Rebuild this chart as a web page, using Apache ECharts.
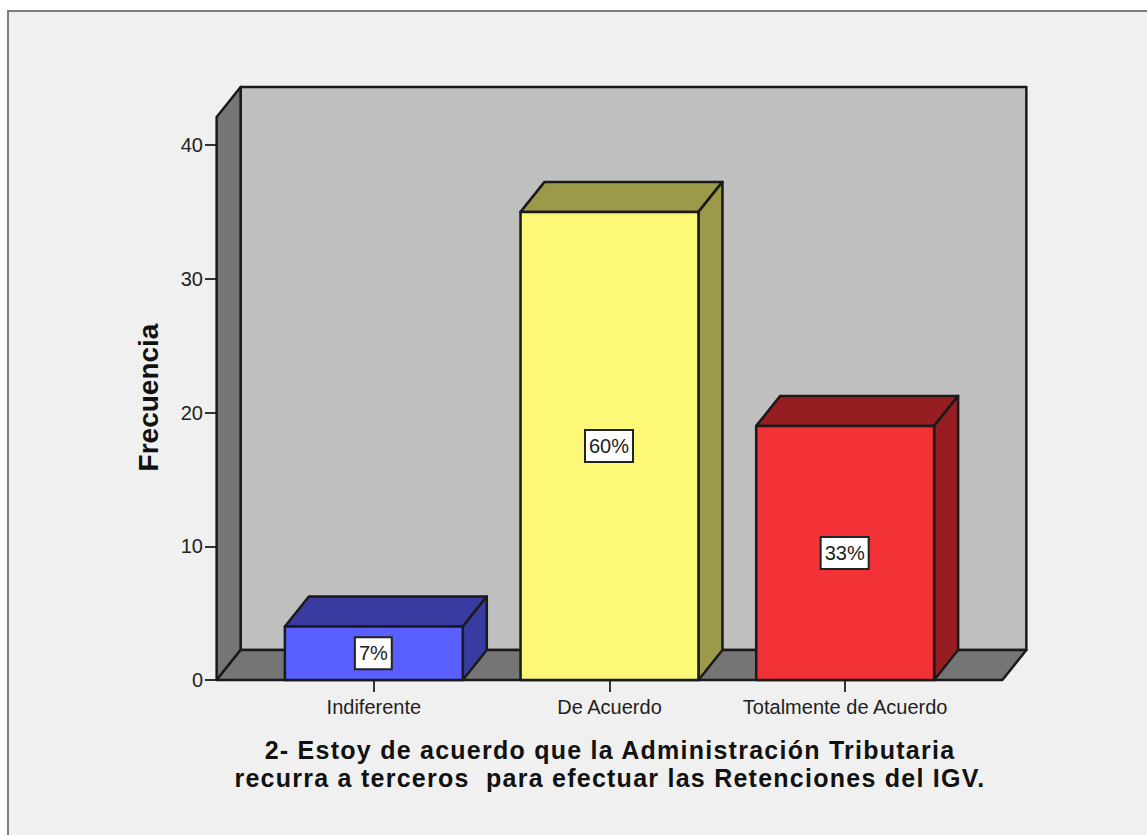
<!DOCTYPE html>
<html>
<head>
<meta charset="utf-8">
<style>
  html, body { margin: 0; padding: 0; background: #fff; overflow: hidden; }
  #chart { width: 1147px; height: 835px; }
  /* el titulo del original va mas espaciado */
  #chart text[style*="25px"] { letter-spacing: 1.25px; }
</style>
<script src="https://cdn.jsdelivr.net/npm/echarts@6/dist/echarts.min.js"></script>
</head>
<body>
<div id="chart"></div>
<script>
var categories = ['Indiferente', 'De Acuerdo', 'Totalmente de Acuerdo'];
var frecuencia = [4, 35, 19];
var porcentajes = ['7%', '60%', '33%'];
var yTicks = [0, 10, 20, 30, 40];
var titulo = '2- Estoy de acuerdo que la Administración Tributaria\nrecurra a terceros  para efectuar las Retenciones del IGV.';

var colorFront = ['#5a60ff', '#fdf876', '#f33238'];
var colorSide = ['#383ba0', '#9c9a48', '#961e22'];
var depthX = 24, depthY = -30;
var lineColor = '#1a1a1a';
var fontName = '"Liberation Sans", Arial, sans-serif';

function poly(points, fill) {
  return {
    type: 'polygon',
    shape: { points: points },
    style: { fill: fill, stroke: lineColor, lineWidth: 2.5, lineJoin: 'round' }
  };
}

// paredes del fondo
function renderWalls(params, api) {
  var step = api.size([1, 0])[0];
  var base = api.coord([0, 0]);
  var left = base[0] - 0.667 * step;
  var right = base[0] + 2.667 * step;
  var bottom = base[1];
  var top = api.coord([0, 42.1])[1];
  return {
    type: 'group',
    children: [
      poly([[left + depthX, top + depthY], [right + depthX, top + depthY], [right + depthX, bottom + depthY], [left + depthX, bottom + depthY]], '#bfbfbf'),
      poly([[left, top], [left + depthX, top + depthY], [left + depthX, bottom + depthY], [left, bottom]], '#757575'),
      poly([[left, bottom], [left + depthX, bottom + depthY], [right + depthX, bottom + depthY], [right, bottom]], '#757575')
    ]
  };
}

function renderBar(params, api) {
  var i = api.value(0);
  var p = api.coord([i, api.value(1)]);
  var b = api.coord([i, 0]);
  var w = api.size([1, 0])[0] * 0.755;
  var l = p[0] - w / 2, r = p[0] + w / 2;
  return {
    type: 'group',
    children: [
      poly([[l, p[1]], [l + depthX, p[1] + depthY], [r + depthX, p[1] + depthY], [r, p[1]]], colorSide[i]),
      poly([[r, p[1]], [r + depthX, p[1] + depthY], [r + depthX, b[1] + depthY], [r, b[1]]], colorSide[i]),
      poly([[l, p[1]], [r, p[1]], [r, b[1]], [l, b[1]]], colorFront[i]),
      {
        type: 'text',
        x: p[0] - 0.5,
        y: (p[1] + b[1]) / 2,
        style: {
          text: porcentajes[i],
          font: '20px ' + fontName,
          fill: '#222',
          align: 'center',
          verticalAlign: 'middle',
          backgroundColor: '#fff',
          borderColor: '#222',
          borderWidth: 2,
          padding: [6, 3, 4, 3]
        }
      }
    ]
  };
}

var chart = echarts.init(document.getElementById('chart'), null, { renderer: 'svg' });
chart.setOption({
  animation: false,
  backgroundColor: '#fff',
  graphic: [{
    type: 'rect',
    z: -10,
    shape: { x: 8, y: 11, width: 1300, height: 1000 },
    style: { fill: '#f0f0f0', stroke: '#7d7d7d', lineWidth: 2 }
  }],
  title: {
    text: titulo,
    left: 605,
    top: 731,
    textAlign: 'center',
    textStyle: {
      fontFamily: fontName,
      fontSize: 25,
      fontWeight: 'bold',
      color: '#111',
      lineHeight: 28
    }
  },
  grid: { left: 256, top: 145, width: 707, height: 535 },
  xAxis: {
    type: 'category',
    data: categories,
    axisLine: { show: false },
    axisTick: { show: true, alignWithLabel: true, length: 12, lineStyle: { color: '#333', width: 2 } },
    axisLabel: { interval: 0, margin: 17, fontSize: 20, color: '#222', fontFamily: fontName, hideOverlap: false },
    splitLine: { show: false }
  },
  yAxis: {
    type: 'value',
    min: yTicks[0],
    max: yTicks[yTicks.length - 1],
    interval: 10,
    offset: 39,
    name: 'Frecuencia',
    nameLocation: 'middle',
    nameGap: 55,
    nameRotate: 90,
    nameTextStyle: { fontSize: 28, fontWeight: 'bold', color: '#111', fontFamily: fontName, padding: [0, 0, 0, 30] },
    axisLine: { show: false },
    axisTick: { show: true, length: 12, lineStyle: { color: '#333', width: 2 } },
    axisLabel: { margin: 14, fontSize: 20, color: '#222', fontFamily: fontName },
    splitLine: { show: false }
  },
  series: [
    {
      type: 'custom',
      name: 'paredes',
      z: 1,
      clip: false,
      silent: true,
      renderItem: renderWalls,
      data: [[0, 0]]
    },
    {
      type: 'custom',
      name: 'Frecuencia',
      z: 2,
      clip: false,
      renderItem: renderBar,
      encode: { x: 0, y: 1 },
      data: frecuencia.map(function (v, i) { return [i, v]; })
    }
  ]
});
</script>
</body>
</html>
